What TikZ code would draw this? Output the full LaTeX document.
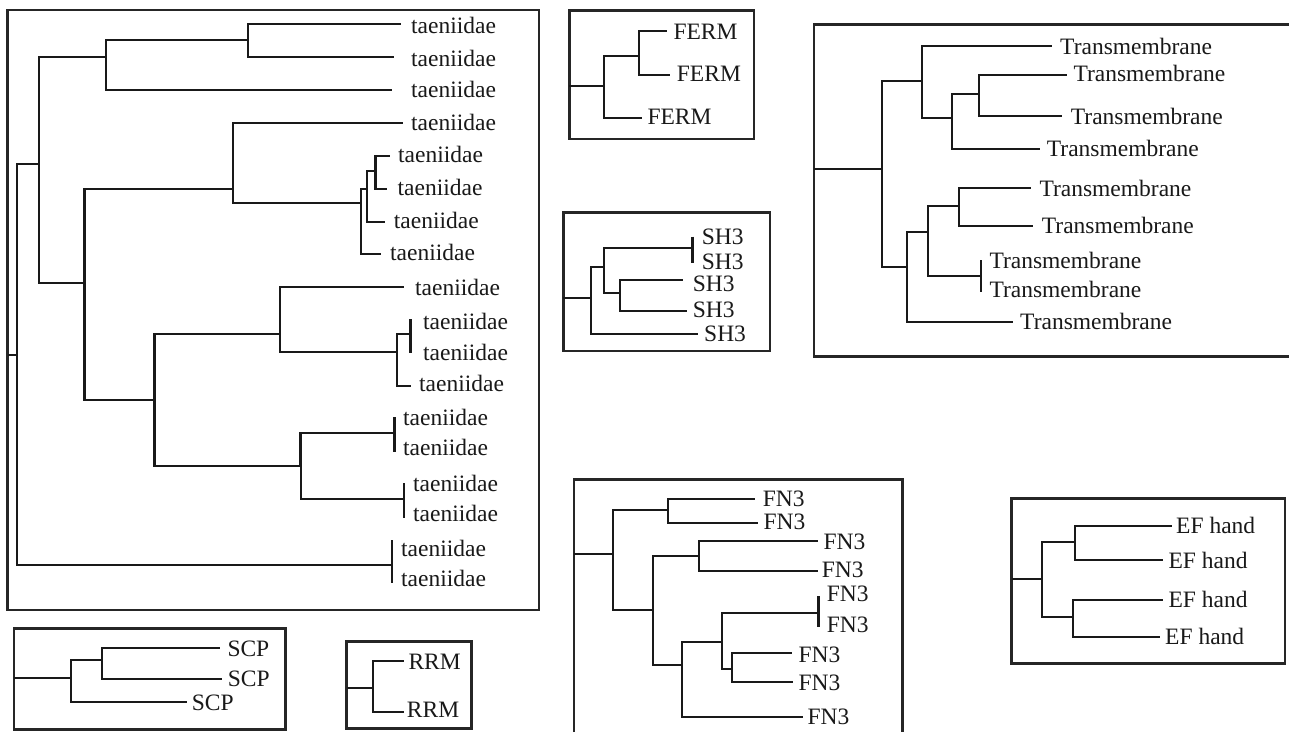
\documentclass[tikz,border=0pt]{standalone}
\usepackage{fontspec}
\setmainfont{Liberation Serif}
\begin{document}
\begin{tikzpicture}[x=1pt,y=-1pt,
  br/.style={line width=2.2pt, color=black!90},
  tk/.style={line width=2.5pt, color=black!90},
  frame/.style={line width=2.6pt, color=black!85},
  lab/.style={anchor=west, inner sep=0pt, font=\fontsize{23.5}{28}\selectfont, text=black!90}]
\useasboundingbox (0,0) rectangle (1289,732);
\fill[white] (0,0) rectangle (1289,732);

% ================= taeniidae =================
\draw[frame] (7.7,10) rectangle (539,610);
\coordinate (t0s) at (7.7,355);
\coordinate (r0) at (16.8,355);
\coordinate (B) at (38.6,164);
\coordinate (A1) at (106,57);
\coordinate (A2) at (248,40);
\coordinate (C) at (84.2,283);
\coordinate (D) at (233,189);
\coordinate (E) at (361,203);
\coordinate (F) at (366.7,189);
\coordinate (G) at (375.4,171);
\coordinate (H) at (154.4,400);
\coordinate (I) at (279.6,334);
\coordinate (J) at (397,352);
\coordinate (K) at (300.7,466);
\coordinate (L1) at (400.7,24);
\coordinate (L2) at (393.7,57);
\coordinate (L3) at (392,90);
\coordinate (L4) at (402.5,123);
\coordinate (L5) at (389.5,156);
\coordinate (L6) at (387,189);
\coordinate (L7) at (385,222);
\coordinate (L8) at (381,254);
\coordinate (L9) at (403.5,287);
\coordinate (P1) at (410.5,334);
\coordinate (P1a) at (410.5,319);
\coordinate (P1b) at (410.5,353);
\coordinate (L12) at (410.5,386);
\coordinate (P2) at (394.7,433);
\coordinate (P2a) at (394.7,417);
\coordinate (P2b) at (394.7,452);
\coordinate (P3) at (404,499);
\coordinate (P3a) at (404,483);
\coordinate (P3b) at (404,518);
\coordinate (P4) at (392,565);
\coordinate (P4a) at (392,540);
\coordinate (P4b) at (392,583);
\draw[br] (t0s) -- (r0);
\draw[br] (r0) |- (B);
\draw[br] (r0) |- (P4);
\draw[br] (B) |- (A1);
\draw[br] (B) |- (C);
\draw[br] (A1) |- (A2);
\draw[br] (A1) |- (L3);
\draw[br] (A2) |- (L1);
\draw[br] (A2) |- (L2);
\draw[br,line width=2.7pt] (C) |- (D);
\draw[br,line width=2.7pt] (C) |- (H);
\draw[br] (D) |- (L4);
\draw[br] (D) |- (E);
\draw[br] (E) |- (F);
\draw[br] (E) |- (L8);
\draw[br] (F) |- (G);
\draw[br] (F) |- (L7);
\draw[br] (G) |- (L5);
\draw[br] (G) |- (L6);
\draw[br] (H) |- (I);
\draw[br] (H) |- (K);
\draw[br] (I) |- (L9);
\draw[br] (I) |- (J);
\draw[br] (J) |- (P1);
\draw[br] (J) |- (L12);
\draw[br,line width=2.8pt] (K) |- (P2);
\draw[br] (K) |- (P3);
\draw[tk] (P1a) -- (P1b);
\draw[tk] (P2a) -- (P2b);
\draw[tk] (P3a) -- (P3b);
\draw[tk] (P4a) -- (P4b);
\node[lab] (tl1) at (411,25) {taeniidae};
\node[lab] (tl2) at (411,58) {taeniidae};
\node[lab] (tl3) at (411,89) {taeniidae};
\node[lab] (tl4) at (411,122) {taeniidae};
\node[lab] (tl5) at (398,154) {taeniidae};
\node[lab] (tl6) at (397.5,187) {taeniidae};
\node[lab] (tl7) at (393.7,220) {taeniidae};
\node[lab] (tl8) at (390,252) {taeniidae};
\node[lab] (tl9) at (415,287) {taeniidae};
\node[lab] (tl10) at (423,321) {taeniidae};
\node[lab] (tl11) at (423,352) {taeniidae};
\node[lab] (tl12) at (419,383) {taeniidae};
\node[lab] (tl13) at (403,417) {taeniidae};
\node[lab] (tl14) at (403,447) {taeniidae};
\node[lab] (tl15) at (413,483) {taeniidae};
\node[lab] (tl16) at (413,513) {taeniidae};
\node[lab] (tl17) at (401,548) {taeniidae};
\node[lab] (tl18) at (401,578) {taeniidae};

% ================= FERM =================
\draw[frame] (569.3,10.7) rectangle (754,139);
\coordinate (Es) at (569.3,86);
\coordinate (E0) at (604.3,86);
\coordinate (E1) at (639.3,55.7);
\coordinate (FE1) at (666.7,31);
\coordinate (FE2) at (670,75);
\coordinate (FE3) at (641.7,118);
\draw[br] (Es) -- (E0);
\draw[br] (E0) |- (E1);
\draw[br] (E0) |- (FE3);
\draw[br] (E1) |- (FE1);
\draw[br] (E1) |- (FE2);
\node[lab] (fl1) at (673.3,32) {FERM};
\node[lab] (fl2) at (676.7,74) {FERM};
\node[lab] (fl3) at (647.3,117) {FERM};

% ================= SH3 =================
\draw[frame] (563.3,212.7) rectangle (770,351);
\coordinate (Ss) at (563.3,298.3);
\coordinate (S0) at (591,298.3);
\coordinate (S1) at (604.3,266.7);
\coordinate (S2) at (620,293.3);
\coordinate (SP) at (692.7,248.3);
\coordinate (SPa) at (692.7,236.7);
\coordinate (SPb) at (692.7,263.3);
\coordinate (SH3a) at (683.3,280);
\coordinate (SH4) at (686.7,311);
\coordinate (SH5) at (697.7,334.3);
\draw[br] (Ss) -- (S0);
\draw[br] (S0) |- (S1);
\draw[br] (S0) |- (SH5);
\draw[br] (S1) |- (SP);
\draw[br] (S1) |- (S2);
\draw[br] (S2) |- (SH3a);
\draw[br] (S2) |- (SH4);
\draw[tk] (SPa) -- (SPb);
\node[lab] (sl1) at (701.7,237) {SH3};
\node[lab] (sl2) at (701.7,262) {SH3};
\node[lab] (sl3) at (692.7,283.5) {SH3};
\node[lab] (sl4) at (692.7,310) {SH3};
\node[lab] (sl5) at (704,334) {SH3};

% ================= Transmembrane =================
\draw[frame] (1289,24.3) -- (814,24.3) -- (814,356.7) -- (1289,356.7);
\coordinate (Ms) at (814,169);
\coordinate (R) at (881.7,169);
\coordinate (T1) at (921.7,81);
\coordinate (T2) at (906.7,267.3);
\coordinate (T3) at (952.3,118.3);
\coordinate (T4) at (979,94.3);
\coordinate (T5) at (928.3,231.7);
\coordinate (T6) at (959,206);
\coordinate (M1) at (1051.7,46);
\coordinate (M2) at (1066.7,75);
\coordinate (M3) at (1062.3,116);
\coordinate (M4) at (1040,149.3);
\coordinate (M5) at (1030.7,188.3);
\coordinate (M6) at (1033.3,226);
\coordinate (MP) at (981,276);
\coordinate (MPa) at (981,260);
\coordinate (MPb) at (981,291.7);
\coordinate (M9) at (1013.3,322.3);
\draw[br] (Ms) -- (R);
\draw[br] (R) |- (T1);
\draw[br] (R) |- (T2);
\draw[br] (T1) |- (M1);
\draw[br] (T1) |- (T3);
\draw[br] (T3) |- (T4);
\draw[br] (T3) |- (M4);
\draw[br] (T4) |- (M2);
\draw[br] (T4) |- (M3);
\draw[br] (T2) |- (T5);
\draw[br] (T2) |- (M9);
\draw[br] (T5) |- (T6);
\draw[br] (T5) |- (MP);
\draw[br] (T6) |- (M5);
\draw[br] (T6) |- (M6);
\draw[tk] (MPa) -- (MPb);
\node[lab] (ml1) at (1060,46.7) {Transmembrane};
\node[lab] (ml2) at (1073.3,73.3) {Transmembrane};
\node[lab] (ml3) at (1070.7,116) {Transmembrane};
\node[lab] (ml4) at (1046.7,148.3) {Transmembrane};
\node[lab] (ml5) at (1039.3,188.3) {Transmembrane};
\node[lab] (ml6) at (1041.7,225) {Transmembrane};
\node[lab] (ml7) at (989.3,260.7) {Transmembrane};
\node[lab] (ml8) at (989.3,289.3) {Transmembrane};
\node[lab] (ml9) at (1020,321.7) {Transmembrane};

% ================= FN3 =================
\draw[frame] (574,732) -- (574,479.3) -- (902.3,479.3) -- (902.3,732);
\coordinate (Ns) at (574,554);
\coordinate (N0) at (613.3,554);
\coordinate (N1) at (668.3,510);
\coordinate (N2) at (652.7,610);
\coordinate (N3) at (699.3,556);
\coordinate (N4) at (681.7,665);
\coordinate (N5) at (721.7,641.7);
\coordinate (N6) at (732.3,669.3);
\coordinate (F1) at (755,499);
\coordinate (F2) at (758.3,522.7);
\coordinate (F3) at (818.3,540.7);
\coordinate (F4) at (818.3,570.7);
\coordinate (FP) at (818.3,613.3);
\coordinate (FPa) at (818.3,596);
\coordinate (FPb) at (818.3,627.3);
\coordinate (F7) at (791.7,653.3);
\coordinate (F8) at (792.7,681.7);
\coordinate (F9) at (803.3,717.3);
\draw[br] (Ns) -- (N0);
\draw[br] (N0) |- (N1);
\draw[br] (N0) |- (N2);
\draw[br] (N1) |- (F1);
\draw[br] (N1) |- (F2);
\draw[br] (N2) |- (N3);
\draw[br] (N2) |- (N4);
\draw[br] (N3) |- (F3);
\draw[br] (N3) |- (F4);
\draw[br] (N4) |- (N5);
\draw[br] (N4) |- (F9);
\draw[br] (N5) |- (FP);
\draw[br] (N5) |- (N6);
\draw[br] (N6) |- (F7);
\draw[br] (N6) |- (F8);
\draw[tk] (FPa) -- (FPb);
\node[lab] (nl1) at (762.7,499.3) {FN3};
\node[lab] (nl2) at (763.3,521.7) {FN3};
\node[lab] (nl3) at (823.3,541.7) {FN3};
\node[lab] (nl4) at (821.7,570) {FN3};
\node[lab] (nl5) at (826.7,594) {FN3};
\node[lab] (nl6) at (826.7,625) {FN3};
\node[lab] (nl7) at (798.3,655) {FN3};
\node[lab] (nl8) at (798.3,683.3) {FN3};
\node[lab] (nl9) at (807.3,716.7) {FN3};

% ================= EF hand =================
\draw[frame] (1011.7,498.3) rectangle (1285,663.3);
\coordinate (Hs) at (1011.7,579.3);
\coordinate (H0) at (1041.7,579.3);
\coordinate (H1) at (1075,542.3);
\coordinate (H2) at (1072.7,616.7);
\coordinate (EF1) at (1172.3,525.7);
\coordinate (EF2) at (1163.3,560);
\coordinate (EF3) at (1163.3,600);
\coordinate (EF4) at (1160,636.7);
\draw[br] (Hs) -- (H0);
\draw[br] (H0) |- (H1);
\draw[br] (H0) |- (H2);
\draw[br] (H1) |- (EF1);
\draw[br] (H1) |- (EF2);
\draw[br] (H2) |- (EF3);
\draw[br] (H2) |- (EF4);
\node[lab] (el1) at (1176,525.7) {EF hand};
\node[lab] (el2) at (1168.3,560) {EF hand};
\node[lab] (el3) at (1168.3,599) {EF hand};
\node[lab] (el4) at (1165,636.7) {EF hand};

% ================= SCP =================
\draw[frame] (14,628.3) rectangle (285.7,729.3);
\coordinate (Cs) at (14,678.3);
\coordinate (C0) at (70.7,678.3);
\coordinate (C1) at (101.7,660);
\coordinate (SC1) at (220,648.3);
\coordinate (SC2) at (221.7,679);
\coordinate (SC3) at (186.7,701.7);
\draw[br] (Cs) -- (C0);
\draw[br] (C0) |- (C1);
\draw[br] (C0) |- (SC3);
\draw[br] (C1) |- (SC1);
\draw[br] (C1) |- (SC2);
\node[lab] (cl1) at (227.3,649) {SCP};
\node[lab] (cl2) at (227.7,679.3) {SCP};
\node[lab] (cl3) at (191.7,703.3) {SCP};

% ================= RRM =================
\draw[frame] (346.7,641.7) rectangle (471.7,728.3);
\coordinate (Rs) at (346.7,688.3);
\coordinate (R0) at (372.7,688.3);
\coordinate (RR1) at (404.3,661);
\coordinate (RR2) at (404.3,711.7);
\draw[br] (Rs) -- (R0);
\draw[br] (R0) |- (RR1);
\draw[br] (R0) |- (RR2);
\node[lab] (rl1) at (408.3,661.7) {RRM};
\node[lab] (rl2) at (406.7,710) {RRM};
\end{tikzpicture}
\end{document}
